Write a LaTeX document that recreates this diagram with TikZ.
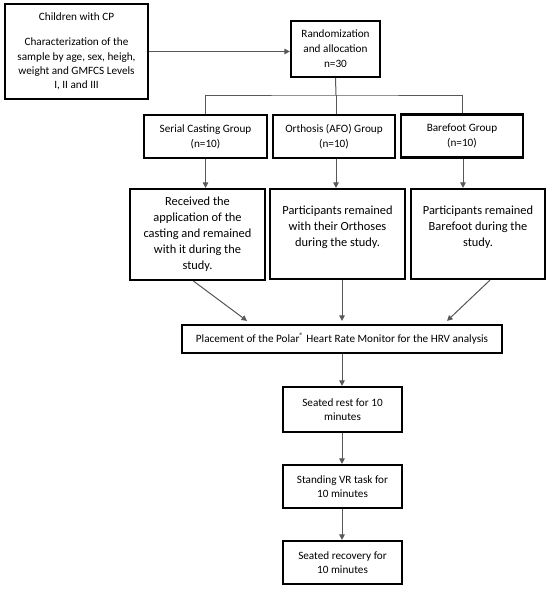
\documentclass[tikz,border=0pt]{standalone}
\usepackage{fontspec}
\setmainfont{Carlito}
\usetikzlibrary{arrows.meta}
\definecolor{conncol}{RGB}{88,88,88}
\begin{document}
\begin{tikzpicture}[x=1pt,y=-1pt,
  box/.style={draw=black,line width=2.2pt,align=center,inner sep=1pt},
  conn/.style={draw=conncol,line width=1pt},
  arr/.style={conn,-{Triangle[length=5.5pt,width=5.5pt]},fill=conncol}]
\useasboundingbox (0,0) rectangle (550,589);

\node[box,minimum width=143pt,minimum height=95pt,font=\fontsize{11.2}{14.2}\selectfont] (child) at (76.5,51.5)
  {Children with CP\\[11pt]Characterization of the\\sample by age, sex, heigh,\\weight and GMFCS Levels\\I, II and III};
\node[box,minimum width=89pt,minimum height=56pt,font=\fontsize{11.2}{15}\selectfont] (rand) at (335.5,49)
  {Randomization\\and allocation\\n=30};

\node[box,minimum width=123pt,minimum height=43pt,font=\fontsize{11.2}{15}\selectfont] (serial) at (205.5,136.5)
  {Serial Casting Group\\(n=10)};
\node[box,minimum width=122pt,minimum height=43pt,font=\fontsize{11.2}{15}\selectfont] (orth) at (334,136.5)
  {Orthosis (AFO) Group\\(n=10)};
\node[box,minimum width=122pt,minimum height=43pt,font=\fontsize{11.2}{15}\selectfont] (bare) at (462,136)
  {Barefoot Group\\(n=10)};

\node[box,minimum width=135pt,minimum height=91pt,font=\fontsize{12.4}{16}\selectfont] (cast) at (197.5,234.5)
  {Received the\\application of the\\casting and remained\\with it during the\\study.};
\node[box,minimum width=135pt,minimum height=90pt,font=\fontsize{12.4}{16}\selectfont] (orthd) at (337.5,234)
  {\parbox[c][84pt][t]{130pt}{\centering\vspace{14pt}Participants remained\\with their Orthoses\\during the study.}};
\node[box,minimum width=134pt,minimum height=90pt,font=\fontsize{12.4}{16}\selectfont] (bared) at (478,234)
  {\parbox[c][84pt][t]{130pt}{\centering\vspace{14pt}Participants remained\\Barefoot during the\\study.}};

\node[box,minimum width=320pt,minimum height=28pt,font=\fontsize{11.2}{13}\selectfont] (place) at (342,339)
  {Placement of the Polar\textsuperscript{®} Heart Rate Monitor for the HRV analysis};

\node[box,minimum width=119pt,minimum height=45pt,font=\fontsize{11.2}{14.5}\selectfont] (rest) at (342.5,409.5)
  {Seated rest for 10\\minutes};
\node[box,minimum width=119pt,minimum height=43pt,font=\fontsize{11.2}{14.5}\selectfont] (stand) at (342.5,486.5)
  {Standing VR task for\\10 minutes};
\node[box,minimum width=119pt,minimum height=43pt,font=\fontsize{11.2}{14.5}\selectfont] (recov) at (342.5,562.5)
  {Seated recovery for\\10 minutes};

\coordinate (hbar) at (336,95);
\draw[arr] (child.east) -- (child.east -| rand.west);
\draw[conn] (rand.south) -- (hbar);
\draw[conn] (serial.north) |- (hbar) -| (bare.north);
\draw[conn] (hbar) -- (hbar |- orth.north);

\draw[arr] (serial.south) -- (serial.south |- cast.north);
\draw[arr] ([xshift=2pt]orth.south) -- ([xshift=2pt]orth.south |- orthd.north);
\draw[arr] ([xshift=1pt]bare.south) -- ([xshift=1pt]bare.south |- bared.north);

\draw[arr] ([xshift=-4pt]cast.south) -- ([xshift=-95pt,yshift=3pt]place.north);
\draw[arr] (place.north |- orthd.south) -- ([yshift=3pt]place.north);
\draw[arr] ([xshift=12pt]bared.south) -- ([xshift=105pt,yshift=3pt]place.north);

\draw[arr] (place.south) -- (place.south |- rest.north);
\draw[arr] (place.south |- rest.south) -- (place.south |- stand.north);
\draw[arr] (place.south |- stand.south) -- (place.south |- recov.north);
\end{tikzpicture}
\end{document}
